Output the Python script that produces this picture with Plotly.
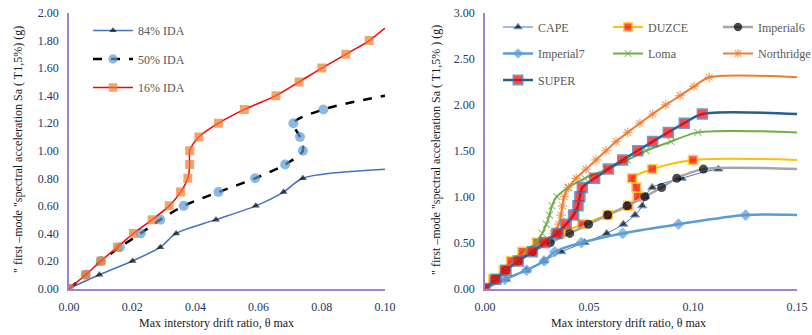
import plotly.graph_objects as go

# ---------------- data: left chart (IDA fractiles) ----------------
x84 = [0, 0.0096, 0.0201, 0.0289, 0.0339, 0.0465, 0.0591, 0.0679, 0.0740, 0.100]
y84 = [0, 0.1, 0.2, 0.3, 0.4, 0.5, 0.6, 0.7, 0.8, 0.865]
x50 = [0, 0.0053, 0.0101, 0.0161, 0.0227, 0.0289, 0.0363, 0.0473, 0.0589, 0.0684, 0.0740, 0.0731, 0.0710, 0.0805, 0.1000]
y50 = [0, 0.1, 0.2, 0.3, 0.4, 0.5, 0.6, 0.7, 0.8, 0.9, 1.0, 1.1, 1.2, 1.3, 1.40]
x16 = [0, 0.0053, 0.0101, 0.0153, 0.0204, 0.0263, 0.0317, 0.0353, 0.0376, 0.0382, 0.0382, 0.0411, 0.0473,
       0.0555, 0.0655, 0.0728, 0.0800, 0.0876, 0.0950, 0.1000]
y16 = [0, 0.1, 0.2, 0.3, 0.4, 0.5, 0.6, 0.7, 0.8, 0.9, 1.0, 1.1, 1.2, 1.3, 1.4, 1.5, 1.6, 1.7, 1.8, 1.89]

# ---------------- data: right chart (records) ----------------
cape_x = [0, 0.0101, 0.0200, 0.0284, 0.0367, 0.0479, 0.0585, 0.0665, 0.0721, 0.0756, 0.0770, 0.0804, 0.0946, 0.1122, 0.15]
cape_y = [0, 0.1, 0.2, 0.3, 0.4, 0.5, 0.6, 0.7, 0.8, 0.9, 1.0, 1.1, 1.2, 1.3, 1.3]
duzce_x = [0, 0.0040, 0.0090, 0.0125, 0.0180, 0.0250, 0.0360, 0.0468, 0.0590, 0.0690, 0.0734, 0.0728, 0.0707,
           0.0804, 0.1000, 0.15]
duzce_y = [0, 0.1, 0.2, 0.3, 0.4, 0.5, 0.6, 0.7, 0.8, 0.9, 1.0, 1.1, 1.2, 1.3, 1.4, 1.4]
imp6_x = [0, 0.0050, 0.0101, 0.0160, 0.0228, 0.0314, 0.0407, 0.0498, 0.0590, 0.0683, 0.0769, 0.0849, 0.0922, 0.1050, 0.15]
imp6_y = [0, 0.1, 0.2, 0.3, 0.4, 0.5, 0.6, 0.7, 0.8, 0.9, 1.0, 1.1, 1.2, 1.3, 1.3]
imp7_x = [0, 0.0095, 0.0200, 0.0284, 0.0335, 0.0463, 0.0662, 0.0930, 0.1253, 0.15]
imp7_y = [0, 0.1, 0.2, 0.3, 0.4, 0.5, 0.6, 0.7, 0.8, 0.8]
loma_x = [0, 0.0050, 0.0101, 0.0150, 0.0200, 0.0245, 0.0275, 0.0295, 0.0310, 0.0322, 0.0345, 0.0400, 0.0480,
          0.0588, 0.0685, 0.0774, 0.0894, 0.1023, 0.15]
loma_y = [0, 0.1, 0.2, 0.3, 0.4, 0.5, 0.6, 0.7, 0.8, 0.9, 1.0, 1.1, 1.2, 1.3, 1.4, 1.5, 1.6, 1.7, 1.7]
north_x = [0, 0.0050, 0.0101, 0.0150, 0.0205, 0.0275, 0.0330, 0.0355, 0.0365, 0.0372, 0.0381, 0.0401, 0.0438,
           0.0486, 0.0534, 0.0582, 0.0630, 0.0686, 0.0745, 0.0806, 0.0869, 0.0938, 0.1005, 0.1078, 0.15]
north_y = [0, 0.1, 0.2, 0.3, 0.4, 0.5, 0.6, 0.7, 0.8, 0.9, 1.0, 1.1, 1.2, 1.3, 1.4, 1.5, 1.6, 1.7, 1.8, 1.9,
           2.0, 2.1, 2.2, 2.3, 2.3]
super_x = [0, 0.0053, 0.0101, 0.0160, 0.0228, 0.0287, 0.0346, 0.0390, 0.0426, 0.0447, 0.0456, 0.0468, 0.0527,
           0.0593, 0.0662, 0.0734, 0.0806, 0.0881, 0.0958, 0.1045, 0.15]
super_y = [0, 0.1, 0.2, 0.3, 0.4, 0.5, 0.6, 0.7, 0.8, 0.9, 1.0, 1.1, 1.2, 1.3, 1.4, 1.5, 1.6, 1.7, 1.8, 1.9, 1.9]

left_ticks_y = [0, 0.2, 0.4, 0.6, 0.8, 1.0, 1.2, 1.4, 1.6, 1.8, 2.0]
left_ticks_x = [0, 0.02, 0.04, 0.06, 0.08, 0.10]
right_ticks_y = [0, 0.5, 1.0, 1.5, 2.0, 2.5, 3.0]
right_ticks_x = [0, 0.05, 0.10, 0.15]

W, H = 812, 335
SERIF = "Liberation Serif, Times New Roman, serif"
TICKC = "#203864"
AXC = "#A47FD0"


def sizes(n, s):
    # marker on every data point except the final (tail) point
    return [s] * (n - 1) + [0]


fig = go.Figure()


def add(x, y, name, xa, ya, legend, group, line, msym, msize, mcolor, mline_c=None, mline_w=0):
    n = len(x)
    ms = sizes(n, msize)
    mw = [mline_w] * (n - 1) + [0]
    fig.add_trace(go.Scatter(
        x=x, y=y, name=name, xaxis=xa, yaxis=ya, legend=legend, legendgroup=group,
        mode="lines+markers", line=dict(shape="spline", smoothing=0.8, **line),
        marker=dict(symbol=msym, size=ms, color=mcolor,
                    line=dict(color=mline_c or mcolor, width=mw)),
        hoverinfo="x+y+name"))


# left chart
add(x84, y84, "84% IDA", "x", "y", "legend", "a", dict(color="#4472C4", width=1.5),
    "triangle-up", 7, "#0A0A0A")
add(x50, y50, "50% IDA", "x", "y", "legend", "b", dict(color="#000000", width=2.5, dash="dash"),
    "circle", 10, "#5B9BD5")
add(x16, y16, "16% IDA", "x", "y", "legend", "c", dict(color="#FF0000", width=1.5),
    "square", 9, "#ED7D31")

# right chart
add(cape_x, cape_y, "CAPE", "x2", "y2", "legend2", "r1", dict(color="#4472C4", width=1),
    "triangle-up", 8, "#000000", "#4472C4", 1)
add(duzce_x, duzce_y, "DUZCE", "x2", "y2", "legend2", "r2", dict(color="#FFC000", width=2),
    "square", 9, "#FF0000", "#FFC000", 1.5)
add(imp6_x, imp6_y, "Imperial6", "x2", "y2", "legend2", "r3", dict(color="#A5A5A5", width=2.5),
    "circle", 9, "#000000")
add(imp7_x, imp7_y, "Imperial7", "x2", "y2", "legend3", "r4", dict(color="#5B9BD5", width=2.5),
    "diamond", 9, "#5B9BD5")
add(loma_x, loma_y, "Loma", "x2", "y2", "legend3", "r5", dict(color="#70AD47", width=2),
    "x-thin-open", 7, "#70AD47", "#70AD47", 1.2)
add(north_x, north_y, "Northridge", "x2", "y2", "legend3", "r6", dict(color="#ED7D31", width=2),
    "asterisk-open", 8, "#ED7D31", "#ED7D31", 1.2)
add(super_x, super_y, "SUPER", "x2", "y2", "legend4", "r7", dict(color="#255E91", width=2.5),
    "square", 10, "#FF0000", "#2E75B6", 1.5)

xl = [69 / W, 385 / W]
xr = [485 / W, 797 / W]
yd = [1 - 288.5 / H, 1 - 13 / H]

axis_common = dict(showgrid=False, zeroline=False, showline=True, linecolor=AXC, linewidth=1.5,
                   ticks="", tickfont=dict(family=SERIF, size=12, color=TICKC), fixedrange=True)

legfont = dict(family=SERIF, size=12, color="#595959")

fig.update_layout(
    width=W, height=H, margin=dict(l=0, r=0, t=0, b=0, autoexpand=False),
    paper_bgcolor="white", plot_bgcolor="white",
    font=dict(family=SERIF),
    xaxis=dict(domain=xl, anchor="y", range=[0, 0.10], tickvals=left_ticks_x, tickformat=".2f",
               ticklabelstandoff=6, **axis_common),
    yaxis=dict(domain=yd, anchor="x", range=[0, 2.0], tickvals=left_ticks_y, tickformat=".2f",
               ticklabelstandoff=6, **axis_common),
    xaxis2=dict(domain=xr, anchor="y2", range=[0, 0.15], tickvals=right_ticks_x, tickformat=".2f",
                ticklabelstandoff=6, **axis_common),
    yaxis2=dict(domain=yd, anchor="x2", range=[0, 3.0], tickvals=right_ticks_y, tickformat=".2f",
                ticklabelstandoff=6, **axis_common),
    legend=dict(x=88 / W, y=1 - 16 / H, xanchor="left", yanchor="top", orientation="v",
                traceorder="grouped", tracegroupgap=9.5, itemwidth=40, font=legfont,
                bgcolor="rgba(0,0,0,0)"),
    legend2=dict(x=498 / W, y=1 - 12.5 / H, xanchor="left", yanchor="top", orientation="h",
                 entrywidth=65, entrywidthmode="pixels", font=legfont, bgcolor="rgba(0,0,0,0)"),
    legend3=dict(x=498 / W, y=1 - 39 / H, xanchor="left", yanchor="top", orientation="h",
                 entrywidth=65, entrywidthmode="pixels", font=legfont, bgcolor="rgba(0,0,0,0)"),
    legend4=dict(x=498 / W, y=1 - 65.5 / H, xanchor="left", yanchor="top", orientation="h",
                 entrywidth=65, entrywidthmode="pixels", font=legfont, bgcolor="rgba(0,0,0,0)"),
    showlegend=True,
)

ytitle = '" first \u2013mode "spectral acceleration Sa ( T1,5%) (g)'
ytitle2 = '" first \u2013mode "spectral acceleration Sa ( T1,5% ) (g)'
xtitle = "Max interstory drift ratio, \u03b8 max"
tfont = dict(family=SERIF, size=12, color="#1A1A1A")
fig.add_annotation(text=ytitle, xref="paper", yref="paper", x=18 / W, y=1 - 150 / H, textangle=-90,
                   showarrow=False, font=tfont, xanchor="center", yanchor="middle")
fig.add_annotation(text=ytitle2, xref="paper", yref="paper", x=436 / W, y=1 - 150 / H, textangle=-90,
                   showarrow=False, font=tfont, xanchor="center", yanchor="middle")
fig.add_annotation(text=xtitle, xref="paper", yref="paper", x=216 / W, y=1 - 323 / H,
                   showarrow=False, font=tfont, xanchor="center", yanchor="middle")
fig.add_annotation(text=xtitle, xref="paper", yref="paper", x=628 / W, y=1 - 323 / H,
                   showarrow=False, font=tfont, xanchor="center", yanchor="middle")

fig.write_html("out.html", config={"displayModeBar": False})
